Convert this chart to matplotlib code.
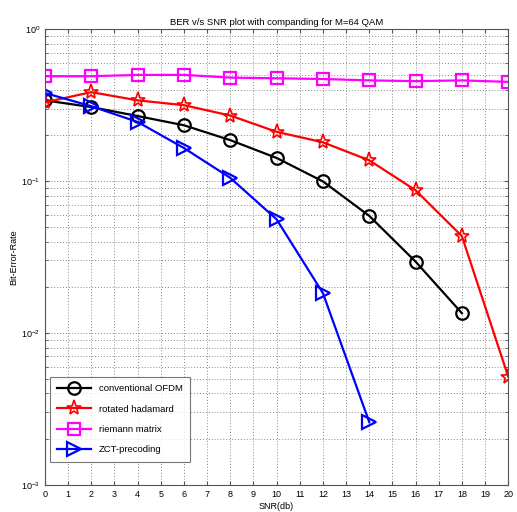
import numpy as np
import matplotlib
matplotlib.use('Agg')
import matplotlib.pyplot as plt
from matplotlib.ticker import LogLocator, NullFormatter, MultipleLocator

# valeurs
snr = [0, 2, 4, 6, 8, 10, 12, 14, 16, 18, 20]
ber_ofdm = [0.34, 0.307, 0.268, 0.233, 0.186, 0.142, 0.0995, 0.059, 0.0295, 0.0135]
ber_hadamard = [0.33, 0.385, 0.34, 0.316, 0.27, 0.211, 0.18, 0.137, 0.087, 0.0434, 0.00516]
ber_riemann = [0.49, 0.49, 0.50, 0.50, 0.48, 0.475, 0.47, 0.46, 0.455, 0.46, 0.45]
ber_zct = [0.38, 0.311, 0.245, 0.165, 0.105, 0.056, 0.0183, 0.00259]

labels = ['conventional OFDM', 'rotated hadamard', 'riemann matrix', 'ZCT-precoding']

plt.rcParams['font.family'] = ['Liberation Sans', 'DejaVu Sans']
fig = plt.figure(figsize=(5.17, 5.12), dpi=100)
ax = fig.add_axes([0.087, 0.053, 0.896, 0.89])

ms = 9
ax.semilogy(snr[:len(ber_ofdm)], ber_ofdm, '-o', color='k', lw=1.6, ms=ms,
            mfc='none', mew=1.6, label=labels[0])
ax.semilogy(snr, ber_hadamard, '-*', color='r', lw=1.6, ms=ms + 2,
            mfc='none', mew=1.2, label=labels[1])
ax.semilogy(snr, ber_riemann, '-s', color='#ff00ff', lw=1.6, ms=ms,
            mfc='none', mew=1.6, label=labels[2])
ax.semilogy(snr[:len(ber_zct)], ber_zct, '->', color='b', lw=1.6, ms=ms + 1,
            mfc='none', mew=1.6, label=labels[3])

ax.set_xlim(0, 20)
ax.set_ylim(1e-3, 1)
ax.xaxis.set_major_locator(MultipleLocator(1))
ax.yaxis.set_major_locator(LogLocator(base=10))
ax.yaxis.set_minor_locator(LogLocator(base=10, subs=np.arange(2, 10)))
ax.yaxis.set_minor_formatter(NullFormatter())
ax.tick_params(which='both', direction='in', top=True, right=True, labelsize=6.5,
               length=3, color='#555555')
ax.tick_params(which='minor', length=2)
ax.grid(True, which='major', linestyle=(0, (1, 2)), color='#888888', lw=0.7)
ax.grid(True, which='minor', linestyle=(0, (1, 2)), color='#888888', lw=0.7)
for s in ax.spines.values():
    s.set_color('#555555')

ax.set_title('BER v/s SNR plot with companding for M=64 QAM', fontsize=6.8, pad=3)
ax.set_xlabel('SNR(db)', fontsize=6.5, labelpad=2)
ax.set_ylabel('Bit-Error-Rate', fontsize=6.5, labelpad=2)

leg = ax.legend(loc='lower left', bbox_to_anchor=(0.0, 0.04), fontsize=6.8,
                fancybox=False, edgecolor='#555555', handlelength=3.6,
                borderpad=0.8, labelspacing=1.2)
leg.get_frame().set_linewidth(0.8)

fig.savefig('out.png', dpi=100)
